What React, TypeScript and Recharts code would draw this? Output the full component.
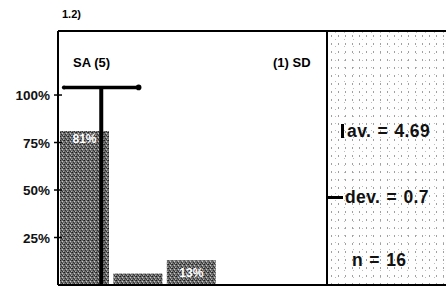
import React from "react";
import {BarChart,Bar,XAxis,YAxis,ReferenceLine,ReferenceDot,LabelList} from "recharts";

// answer scale, strongly agree (5) on the left
const scores = [5, 4, 3, 2, 1];
const shares = [81, 6, 13, 0, 0];
const yTicks = [25, 50, 75, 100];
const average = 4.69;
const deviation = 0.7;
const responses = 16;

const data = scores.map((s, i) => ({ score: s, pct: shares[i] }));

// level (in %) where the mean / deviation marker sits
const MARK_LEVEL = 104;
const FONT = "Arial, 'Liberation Sans', Helvetica, sans-serif";

function PctTick({ x, y, payload }: any) {
  return (
    <g>
      <line x1={x - 4} x2={x + 4} y1={y} y2={y} stroke="#000" strokeWidth={1.5} />
      <text x={x - 8} y={y} dy={5} textAnchor="end" fontSize={13.5} fontWeight="bold" fontFamily={FONT} fill="#111">
        {payload.value}%
      </text>
    </g>
  );
}

function BarLabel({ x, y, width, height, value }: any) {
  if (!value || value < 10) return null;
  const cy = height < 30 ? y + height / 2 : y + 7;
  return (
    <text x={x + width / 2} y={cy} dy={4.5} textAnchor="middle" fontSize={12} fontWeight="bold"
      fontFamily={FONT} fill="#fff">
      {value}%
    </text>
  );
}

const statStyle: React.CSSProperties = {
  position: "absolute", fontSize: 17.5, fontWeight: "bold", lineHeight: "20px", color: "#111", letterSpacing: 0.4,
  wordSpacing: 1,
};

export default function App() {
  return (
    <div style={{ position: "absolute", left: 0, top: 0, width: 446, height: 289, background: "#fff", fontFamily: FONT, overflow: "hidden" }}>
      <div style={{ position: "absolute", left: 62, top: 8, fontSize: 11, fontWeight: "bold" }}>1.2)</div>
      <BarChart width={446} height={289} data={data} margin={{ top: 31, right: 121, bottom: 4, left: 0 }} barCategoryGap={2}>
        <defs>
          <pattern id="scan" width="4" height="4" patternUnits="userSpaceOnUse">
            <rect width="4" height="4" fill="#6e6e6e" />
            <rect x="0" y="0" width="1" height="1" fill="#1e1e1e" />
            <rect x="2" y="1" width="1" height="1" fill="#c8c8c8" />
            <rect x="1" y="2" width="1" height="1" fill="#2e2e2e" />
            <rect x="3" y="3" width="1" height="1" fill="#b0b0b0" />
            <rect x="3" y="0" width="1" height="1" fill="#3c3c3c" />
            <rect x="2" y="3" width="1" height="1" fill="#333" />
          </pattern>
        </defs>
        <XAxis dataKey="score" type="number" domain={[0.5, 5.5]} reversed allowDataOverflow
          tick={false} tickLine={false} height={0} axisLine={{ stroke: "#000", strokeWidth: 1.5 }} />
        <YAxis domain={[0, 133.7]} ticks={yTicks} width={58} tickSize={0} tickMargin={0} tickLine={false}
          tick={<PctTick />} axisLine={{ stroke: "#000", strokeWidth: 2 }} allowDataOverflow />
        <Bar dataKey="pct" fill="url(#scan)" isAnimationActive={false}>
          <LabelList dataKey="pct" content={<BarLabel />} />
        </Bar>
        <ReferenceLine segment={[{ x: average, y: 0 }, { x: average, y: MARK_LEVEL }]}
          stroke="#000" strokeWidth={4} />
        <ReferenceLine segment={[{ x: average + deviation, y: MARK_LEVEL }, { x: average - deviation, y: MARK_LEVEL }]}
          stroke="#000" strokeWidth={3.5} />
        <ReferenceDot x={average + deviation} y={MARK_LEVEL} r={2} fill="#000" stroke="none" />
        <ReferenceDot x={average - deviation} y={MARK_LEVEL} r={2.8} fill="#000" stroke="none" />
      </BarChart>
      {/* frame */}
      <div style={{ position: "absolute", left: 58, top: 30, width: 388, height: 2, background: "#000" }} />
      <div style={{ position: "absolute", left: 58, top: 284, width: 388, height: 1.5, background: "#000" }} />
      <div style={{ position: "absolute", left: 73, top: 55, fontSize: 13, fontWeight: "bold" }}>SA (5)</div>
      <div style={{ position: "absolute", left: 273, top: 55, fontSize: 13, fontWeight: "bold" }}>(1) SD</div>
      {/* stats panel */}
      <div style={{
        position: "absolute", left: 326, top: 32, width: 120, height: 252,
        borderLeft: "2px solid #000",
        backgroundColor: "#fefefe",
        backgroundImage: "radial-gradient(#a0a0a0 0.6px, transparent 0.9px), radial-gradient(#bcbcbc 0.5px, transparent 0.8px)",
        backgroundSize: "7px 8px, 9px 7px",
        backgroundPosition: "0 0, 3px 4px",
      }} />
      <div style={{ position: "absolute", left: 341, top: 124, width: 2.5, height: 14, background: "#000" }} />
      <div style={{ ...statStyle, left: 347, top: 121 }}>av. = {average}</div>
      <div style={{ position: "absolute", left: 328, top: 196, width: 15, height: 2.5, background: "#000" }} />
      <div style={{ ...statStyle, left: 345, top: 187 }}>dev. = {deviation}</div>
      <div style={{ ...statStyle, left: 352, top: 250 }}>n = {responses}</div>
    </div>
  );
}
